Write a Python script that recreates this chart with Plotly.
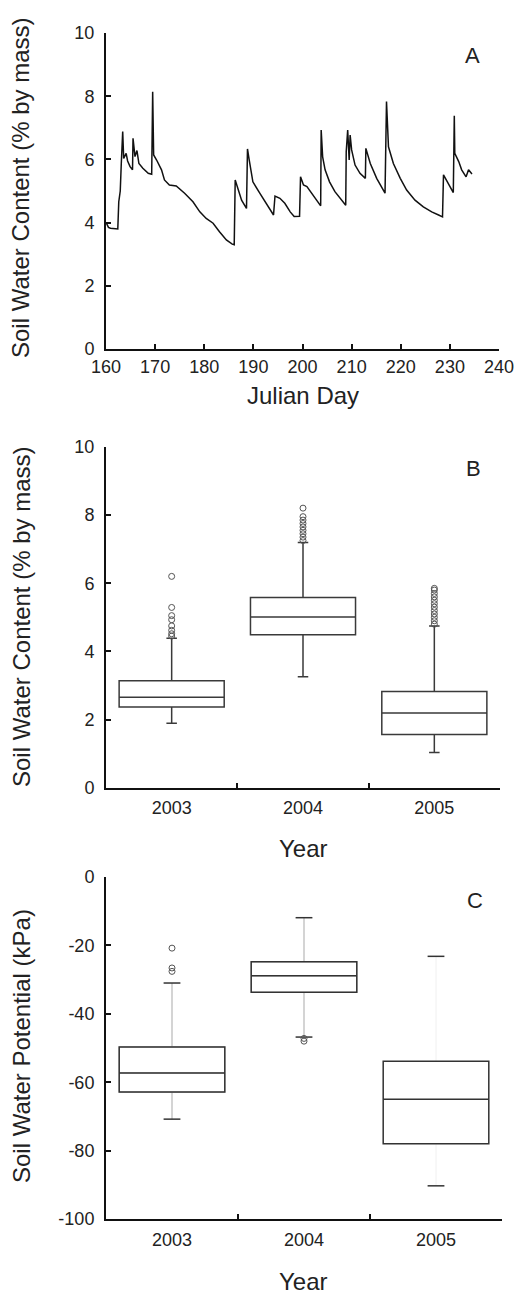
import plotly.graph_objects as go

# ---------------- Panel A: time series ----------------
day = [160.1, 160.5, 160.9, 162.4, 162.6, 162.9, 163.1, 163.4, 163.6, 164.1, 164.4, 164.9,
       165.4, 165.5, 165.9, 166.3, 166.7, 167.5, 168.6, 169.3, 169.5, 169.7, 170.3, 171.3,
       171.9, 172.9, 174.3, 176.0, 177.7, 179.1, 180.4, 181.8, 183.1, 184.5, 185.7, 186.1,
       186.3, 186.9, 187.6, 188.6, 188.8, 189.1, 189.9, 191.3, 192.6, 193.9, 194.1, 194.4,
       195.4, 196.4, 197.5, 198.3, 199.4, 199.6, 200.2, 200.9, 201.9, 202.9, 203.7, 203.8,
       204.1, 204.6, 205.5, 206.6, 208.0, 208.8, 208.9, 209.2, 209.5, 209.7, 210.0, 210.7,
       211.7, 212.8, 212.9, 213.8, 215.1, 216.8, 217.1, 217.3, 217.5, 218.5, 219.9, 221.2,
       222.9, 224.6, 226.3, 227.7, 228.5, 228.7, 229.3, 230.4, 230.7, 230.9, 231.0, 231.8,
       232.4, 233.3, 233.8, 234.5]
swc = [3.98, 3.85, 3.82, 3.80, 4.66, 5.00, 5.82, 6.88, 6.03, 6.19, 5.95, 5.77,
       5.67, 6.67, 6.09, 6.28, 5.87, 5.72, 5.56, 5.53, 8.14, 6.14, 5.98, 5.67,
       5.35, 5.19, 5.16, 4.93, 4.66, 4.34, 4.13, 3.98, 3.71, 3.45, 3.32, 3.30,
       5.35, 5.03, 4.71, 4.45, 6.33, 6.03, 5.29, 4.93, 4.61, 4.29, 4.24, 4.84,
       4.77, 4.61, 4.34, 4.19, 4.20, 5.45, 5.19, 5.14, 4.93, 4.71, 4.53, 6.93,
       6.08, 5.67, 5.29, 4.98, 4.71, 4.55, 6.24, 6.93, 5.98, 6.77, 6.30, 5.82,
       5.56, 5.40, 6.35, 5.87, 5.40, 4.93, 7.83, 6.83, 6.40, 5.87, 5.40, 5.03,
       4.71, 4.50, 4.34, 4.24, 4.18, 5.51, 5.35, 5.03, 4.95, 7.38, 6.19, 5.93,
       5.67, 5.45, 5.67, 5.54]
a_xticks = [160, 170, 180, 190, 200, 210, 220, 230, 240]
swc_ticks = [0, 2, 4, 6, 8, 10]

# ---------------- Panel B: soil water content box plot ----------------
years = ["2003", "2004", "2005"]
b_q1 = [2.37, 4.49, 1.57]
b_med = [2.66, 5.01, 2.20]
b_q3 = [3.14, 5.58, 2.83]
b_lo = [1.90, 3.26, 1.04]
b_hi = [4.39, 7.19, 4.75]
b_out_year = ["2003"] * 8 + ["2004"] * 9 + ["2005"] * 12
b_out_val = [4.45, 4.52, 4.62, 4.75, 4.93, 5.05, 5.29, 6.20,
             7.25, 7.35, 7.45, 7.55, 7.65, 7.75, 7.85, 7.95, 8.20,
             4.80, 4.90, 5.00, 5.10, 5.20, 5.30, 5.40, 5.50, 5.60, 5.70, 5.80, 5.85]

# ---------------- Panel C: soil water potential box plot ----------------
c_q1 = [-62.9, -33.7, -78.0]
c_med = [-57.3, -28.9, -65.0]
c_q3 = [-49.7, -24.8, -53.9]
c_lo = [-70.8, -46.8, -90.3]
c_hi = [-31.0, -11.9, -23.2]
c_out_year = ["2003", "2003", "2003", "2004", "2004"]
c_out_val = [-20.8, -26.6, -27.6, -47.2, -48.0]
swp_ticks = [-100, -80, -60, -40, -20, 0]

FONT = "Liberation Sans, Arial, sans-serif"
INK = "#222222"
W, H = 515, 1295

fig = go.Figure()

# A
fig.add_trace(go.Scatter(x=day, y=swc, mode="lines", line=dict(color="#111111", width=1.5),
                         xaxis="x", yaxis="y", showlegend=False))

# B
fig.add_trace(go.Box(x=years, q1=b_q1, median=b_med, q3=b_q3, lowerfence=b_lo, upperfence=b_hi,
                     boxpoints=False, whiskerwidth=0.1, width=0.8, fillcolor="rgba(255,255,255,0)",
                     line=dict(color="#3a3a3a", width=1.5), xaxis="x2", yaxis="y2", showlegend=False))
fig.add_trace(go.Scatter(x=b_out_year, y=b_out_val, mode="markers",
                         marker=dict(symbol="circle-open", size=6, color="#555555", line=dict(width=1)),
                         xaxis="x2", yaxis="y2", showlegend=False))

# C : light whiskers underneath, dark boxes on top, dark caps
fig.add_trace(go.Box(x=years[:2], q1=c_q1[:2], median=c_med[:2], q3=c_q3[:2],
                     lowerfence=c_lo[:2], upperfence=c_hi[:2],
                     boxpoints=False, whiskerwidth=0, width=0.8, fillcolor="rgba(255,255,255,0)",
                     line=dict(color="#b8b8b8", width=1.2), xaxis="x3", yaxis="y3", showlegend=False))
fig.add_trace(go.Box(x=years[2:], q1=c_q1[2:], median=c_med[2:], q3=c_q3[2:],
                     lowerfence=c_lo[2:], upperfence=c_hi[2:],
                     boxpoints=False, whiskerwidth=0, width=0.8, fillcolor="rgba(255,255,255,0)",
                     line=dict(color="#f0f0f0", width=1), xaxis="x3", yaxis="y3", showlegend=False))
fig.add_trace(go.Box(x=years, q1=c_q1, median=c_med, q3=c_q3, lowerfence=c_q1, upperfence=c_q3,
                     boxpoints=False, whiskerwidth=0, width=0.8, fillcolor="rgba(255,255,255,0)",
                     line=dict(color="#333333", width=1.5), xaxis="x3", yaxis="y3", showlegend=False))
fig.add_trace(go.Scatter(x=years + years, y=c_lo + c_hi, mode="markers",
                         marker=dict(symbol="line-ew-open", size=12, color="#333333",
                                     line=dict(width=1.5, color="#333333")),
                         xaxis="x3", yaxis="y3", showlegend=False))
fig.add_trace(go.Scatter(x=c_out_year, y=c_out_val, mode="markers",
                         marker=dict(symbol="circle-open", size=6, color="#555555", line=dict(width=1)),
                         xaxis="x3", yaxis="y3", showlegend=False))


def xd(a, b):
    return [a / W, b / W]


def yd(top, bottom):
    return [1 - bottom / H, 1 - top / H]


axis_common = dict(showgrid=False, zeroline=False, showline=True, linecolor="#111111", linewidth=2,
                   ticks="inside", ticklen=5, tickwidth=1.5, tickcolor="#111111", automargin=False,
                   tickfont=dict(family=FONT, size=18, color=INK))

fig.update_layout(
    template="none",
    width=W, height=H, margin=dict(l=0, r=0, t=0, b=0, pad=0, autoexpand=False),
    paper_bgcolor="white", plot_bgcolor="white", showlegend=False,
    xaxis=dict(axis_common, domain=xd(106, 499), range=[160, 240], tickvals=a_xticks,
               ticktext=[str(v) for v in a_xticks], anchor="y", ticklabelstandoff=0),
    yaxis=dict(axis_common, domain=yd(33, 349), range=[0, 10], tickvals=swc_ticks,
               ticktext=[str(v) for v in swc_ticks], anchor="x", ticklabelstandoff=6),
    xaxis2=dict(axis_common, domain=xd(106, 500), type="category", range=[-0.5, 2.5], tickson="boundaries",
                anchor="y2", ticklabelstandoff=2),
    yaxis2=dict(axis_common, domain=yd(446.7, 788), range=[0, 10], tickvals=swc_ticks,
                ticktext=[str(v) for v in swc_ticks], anchor="x2", ticklabelstandoff=6),
    xaxis3=dict(axis_common, domain=xd(106, 502), type="category", range=[-0.5, 2.5], tickson="boundaries",
                anchor="y3", ticklabelstandoff=3),
    yaxis3=dict(axis_common, domain=yd(877, 1219), range=[-100, 0], tickvals=swp_ticks,
                ticktext=[str(v) for v in swp_ticks], anchor="x3", ticklabelstandoff=6),
)


def ann(text, x, y, size, angle=0):
    fig.add_annotation(text=text, x=x / W, y=1 - y / H, xref="paper", yref="paper",
                       showarrow=False, textangle=angle, xanchor="center", yanchor="middle",
                       font=dict(family=FONT, size=size, color=INK))


ann("Soil Water Content (% by mass)", 21, 188, 24, -90)
ann("Julian Day", 303, 395, 24)
ann("A", 472, 55, 22)
ann("Soil Water Content (% by mass)", 21, 617, 24, -90)
ann("Year", 303, 848, 24)
ann("B", 473, 468, 22)
ann("Soil Water Potential (kPa)", 21, 1046, 24, -90)
ann("Year", 303, 1281, 24)
ann("C", 475, 900, 22)

fig.write_html("out.html")
